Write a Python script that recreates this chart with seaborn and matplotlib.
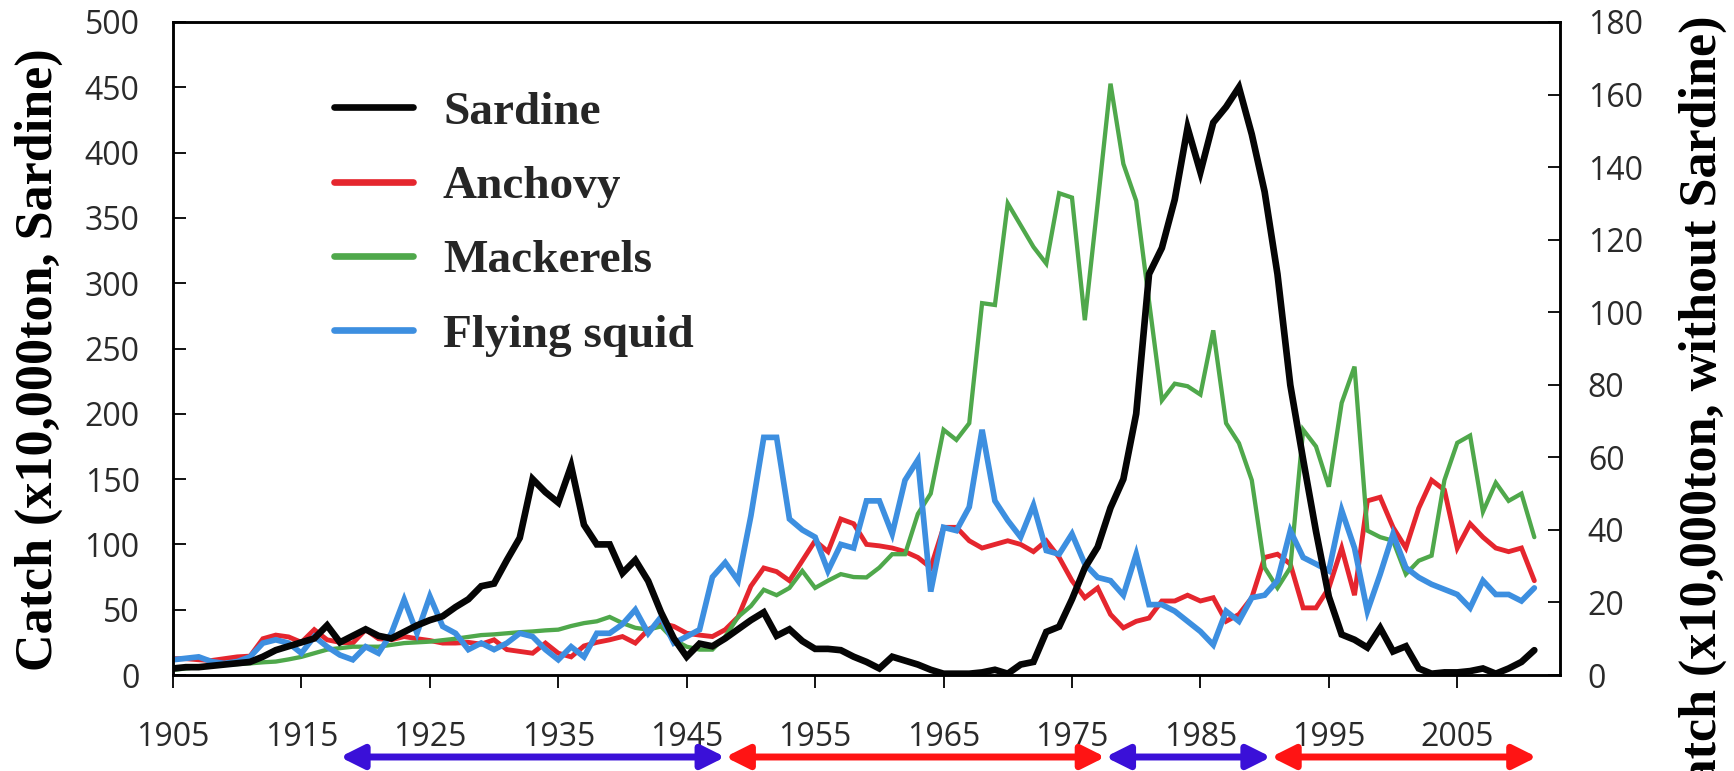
import numpy as np
import pandas as pd
import matplotlib
matplotlib.use("Agg")
import matplotlib.pyplot as plt
import seaborn as sns

# ---------------- data ----------------
years = list(range(1905, 2012))

# Sardine, left axis (x10,000 ton)
sardine = [
    5, 6, 6, 7, 8, 9, 10, 14, 19, 22,
    25, 28, 38, 25, 30, 35, 30, 28, 33, 38,
    42, 45, 52, 58, 68, 70, 88, 105, 150, 140,
    132, 160, 115, 100, 100, 78, 88, 72, 48, 28,
    14, 24, 22, 28, 35, 42, 48, 30, 35, 26,
    20, 20, 19, 14, 10, 5, 14, 11, 8, 4,
    1, 1, 1, 2, 4, 1, 8, 10, 33, 37,
    58, 82, 98, 128, 150, 200, 307, 327, 364, 419,
    385, 423, 435, 450, 414, 370, 307, 222, 165, 110,
    60, 31, 27, 21, 36, 18, 22, 5, 1, 2,
    2, 3, 5, 1, 5, 10, 19,
]

# Right axis (x10,000 ton, without sardine)
anchovy = [
    4.5, 4.5, 4.2, 4.0, 4.5, 5.0, 5.2, 10.0, 11.0, 10.5,
    9.0, 12.5, 9.7, 9.0, 8.8, 12.5, 10.0, 9.7, 10.6, 10.0,
    9.5, 8.8, 8.8, 9.0, 8.5, 9.7, 7.0, 6.5, 6.0, 8.8,
    6.0, 5.0, 8.0, 9.0, 9.7, 10.6, 8.8, 12.5, 14.3, 13.4,
    11.5, 11.0, 10.6, 12.5, 16.0, 24.5, 29.5, 28.5, 26.0, 31.5,
    37.0, 34.0, 43.0, 41.7, 36.0, 35.6, 35.0, 34.0, 32.4, 29.6,
    40.7, 40.7, 37.0, 35.0, 36.0, 37.0, 36.0, 34.0, 37.0, 32.4,
    26.0, 21.3, 24.0, 16.7, 13.0, 14.8, 15.7, 20.4, 20.4, 22.0,
    20.4, 21.3, 14.8, 16.7, 21.3, 32.4, 33.3, 30.6, 18.5, 18.5,
    24.0, 35.0, 22.0, 48.0, 49.0, 40.7, 35.0, 46.0, 53.7, 51.0,
    35.0, 41.7, 38.0, 35.0, 34.0, 35.0, 26.0,
]

mackerels = [
    1.4, 1.8, 2.2, 2.5, 2.8, 3.0, 3.2, 3.5, 3.7, 4.3,
    5.0, 6.0, 7.0, 7.4, 7.8, 7.8, 7.8, 8.3, 8.8, 9.0,
    9.2, 9.6, 10.0, 10.5, 11.0, 11.2, 11.5, 11.8, 12.0, 12.3,
    12.5, 13.5, 14.3, 14.8, 16.0, 14.3, 13.0, 12.5, 13.4, 9.7,
    7.8, 7.0, 7.0, 10.6, 16.0, 19.0, 23.5, 22.0, 24.0, 28.7,
    24.0, 26.0, 27.8, 27.0, 26.9, 29.6, 33.3, 33.3, 44.4, 50.0,
    67.6, 64.8, 69.4, 102.5, 102.0, 130.0, 124.0, 118.0, 113.4, 132.8,
    131.6, 97.8, 130.0, 163.0, 140.9, 130.7, 103.0, 75.7, 80.3, 79.6,
    77.3, 95.0, 69.4, 63.9, 53.7, 29.6, 24.0, 29.6, 67.6, 63.0,
    51.9, 75.0, 85.0, 39.8, 38.0, 37.0, 27.8, 31.5, 32.9, 53.7,
    64.0, 66.0, 45.0, 53.0, 48.0, 50.0, 38.0,
]

flying_squid = [
    4.2, 4.6, 5.0, 3.7, 3.2, 3.7, 5.0, 8.8, 9.7, 8.8,
    6.0, 10.6, 7.8, 5.5, 4.2, 7.8, 6.0, 11.5, 20.8, 11.5,
    21.7, 13.4, 11.5, 7.0, 8.8, 7.0, 8.8, 11.5, 10.6, 7.0,
    4.2, 7.8, 5.0, 11.5, 11.5, 14.0, 18.0, 11.5, 16.0, 8.8,
    10.6, 12.5, 27.0, 31.0, 26.0, 43.9, 65.5, 65.5, 43.0, 40.0,
    38.0, 28.7, 36.0, 35.0, 48.0, 48.0, 38.9, 53.7, 59.3, 23.0,
    40.7, 39.8, 46.3, 67.6, 48.0, 42.6, 38.0, 46.8, 34.3, 33.3,
    38.9, 30.6, 26.9, 26.0, 22.0, 33.3, 19.4, 19.4, 17.6, 14.8,
    12.0, 8.3, 17.6, 14.8, 21.3, 22.0, 26.0, 39.8, 32.4, 30.6,
    28.7, 45.4, 35.0, 17.6, 27.8, 38.9, 29.6, 26.9, 25.0, 23.6,
    22.2, 18.5, 26.0, 22.2, 22.2, 20.4, 24.0,
]

x_ticks = [1905, 1915, 1925, 1935, 1945, 1955, 1965, 1975, 1985, 1995, 2005]
left_ticks = [0, 50, 100, 150, 200, 250, 300, 350, 400, 450, 500]
right_ticks = [0, 20, 40, 60, 80, 100, 120, 140, 160, 180]

# regime periods shown by arrows under the x axis
regime_bounds = [1918.0, 1948.0, 1977.6, 1990.5, 2011.2]
regime_colors = ["#3a10d8", "#ff1414", "#3a10d8", "#ff1414"]

left_label = "Catch (x10,000ton, Sardine)"
right_label = "Catch (x10,000ton, without Sardine)"

# ---------------- style ----------------
sns.set_style("ticks")
plt.rcParams["font.family"] = ["Open Sans", "DejaVu Sans"]

W, H = 1734, 771
fig = plt.figure(figsize=(W / 100, H / 100), dpi=100, facecolor="white")
ax = fig.add_axes([173 / W, 1 - 675 / H, (1560 - 173) / W, (675 - 22) / H])
ax2 = ax.twinx()

df = pd.DataFrame({
    "year": years,
    "Sardine": sardine,
    "Anchovy": anchovy,
    "Mackerels": mackerels,
    "Flying squid": flying_squid,
})

series_right = [
    ("Anchovy", "#e5262e", 3.5),
    ("Mackerels", "#4fa84b", 3.1),
    ("Flying squid", "#3d8fe0", 4.1),
]
handles = {}
for name, col, lw in series_right:
    sns.lineplot(data=df, x="year", y=name, ax=ax2, color=col, linewidth=lw,
                 legend=False, solid_joinstyle="miter")
    handles[name] = ax2.get_lines()[-1]

sns.lineplot(data=df, x="year", y="Sardine", ax=ax, color="#050505",
             linewidth=4.8, legend=False, solid_joinstyle="miter")
handles["Sardine"] = ax.get_lines()[-1]

ax.set_zorder(ax2.get_zorder() + 1)
ax.patch.set_visible(False)

# axes limits and ticks
ax.set_xlim(1905, 2013)
ax.set_ylim(0, 500)
ax2.set_ylim(0, 180)
ax.set_xticks(x_ticks)
ax.set_yticks(left_ticks)
ax2.set_yticks(right_ticks)
for a in (ax, ax2):
    a.set_xlabel("")
    a.set_ylabel("")
    for s in a.spines.values():
        s.set_visible(True)
        s.set_color("black")
        s.set_linewidth(1.8)

lab_col = "#2a2a2a"
ax.tick_params(axis="x", direction="out", length=9, width=1.3, pad=24,
               labelsize=23, labelcolor=lab_col, color="black")
ax.tick_params(axis="y", direction="in", length=9, width=1.3, pad=24,
               labelsize=23, labelcolor=lab_col, color="black")
ax2.tick_params(axis="y", direction="in", length=9, width=1.3, pad=20,
                labelsize=23, labelcolor=lab_col, color="black")

# legend
order = ["Sardine", "Anchovy", "Mackerels", "Flying squid"]
leg = ax.legend([handles[k] for k in order], order,
                loc="upper left", bbox_to_anchor=(315 / W, 1 - 72 / H),
                bbox_transform=fig.transFigure, borderaxespad=0,
                prop={"family": "Liberation Serif", "weight": "bold", "size": 34},
                handlelength=1.67, handletextpad=0.64, labelspacing=0.66,
                borderpad=0.4, frameon=True, facecolor="white",
                edgecolor="none", framealpha=1.0, fancybox=False)
for ln in leg.get_lines():
    ln.set_linewidth(4.8)

# y labels
fig.text(39 / W, 1 - 360 / H, left_label, rotation=90, ha="center", va="center",
         family="Liberation Serif", weight="bold", size=37.5, color="black")
fig.text(1703 / W, 1 - 15 / H, right_label, rotation=90, ha="center", va="top",
         family="Liberation Serif", weight="bold", size=37.5, color="black")

# regime arrows below the x axis
trans = ax.get_xaxis_transform()
arrow_y = -(757 - 675) / (675 - 22)
for x0, x1, col in zip(regime_bounds[:-1], regime_bounds[1:], regime_colors):
    ax.annotate("", xy=(x1, arrow_y), xytext=(x0, arrow_y), xycoords=trans,
                textcoords=trans, annotation_clip=False,
                arrowprops=dict(arrowstyle="<|-|>,head_length=0.7,head_width=0.35",
                                mutation_scale=20, lw=5, color=col,
                                shrinkA=0, shrinkB=0))

fig.savefig("out.png", dpi=100, facecolor="white")
